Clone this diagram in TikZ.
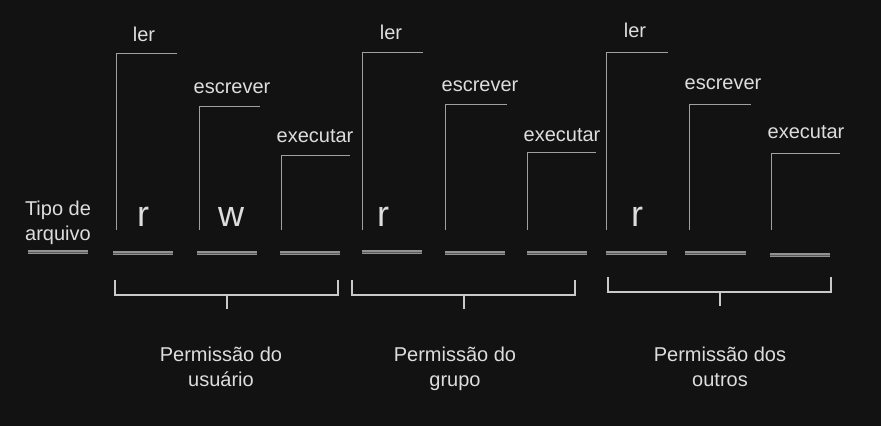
\documentclass[tikz,border=0pt]{standalone}
\usepackage{fontspec}
\setmainfont{Liberation Sans}
\definecolor{bg}{HTML}{121212}
\definecolor{fg}{HTML}{DDDDDD}
\definecolor{ln}{HTML}{A0A0A0}
\begin{document}
\begin{tikzpicture}[x=1pt, y=-1pt,
    lbl/.style={text=fg, font=\fontsize{20}{25}\selectfont, align=center, inner sep=0pt},
    big/.style={text=fg, font=\fontsize{36}{40}\selectfont, inner sep=0pt},
    slot/.style={draw=ln!90!bg, double=bg!50!ln, double distance=0.9pt, line width=1.1pt},
    arm/.style={draw=ln, line width=0.9pt},
    brace/.style={draw=fg!90!bg, line width=1.4pt}]
    \fill[bg] (0,0) rectangle (881,426);
    \useasboundingbox (0,0) rectangle (881,426);

    % tipo de arquivo
    \node[lbl, anchor=base] (tipo) at (58,240) {Tipo de\\arquivo};
    \draw[slot] (28,252) -- (88,252);

    % um colchete por bit
    \foreach \x/\t/\r/\lx/\ly/\txt [count=\i] in {
        116/53/177/144/41/ler, 199/106/260/232/93/escrever, 281/155/350/315/142/executar,
        362/52/423/391/39/ler, 445/104/507/480/91/escrever, 527/152/596/562/141/executar,
        606/52/668/635/37/ler, 689/104/751/723/89/escrever, 771/153/840/806/138/executar}
       {\draw[arm] (\x,230) -- (\x,\t) -- (\r,\t);
        \node[lbl, anchor=base] (op\i) at (\lx,\ly) {\txt};}

    % casas dos bits
    \foreach \a/\b/\y in {113/173/253, 197/257/253, 280/340/253,
        362/422/252, 445/505/253, 527/587/253,
        606/667/253, 685/746/253, 770/830/255}
       \draw[slot] (\a,\y) -- (\b,\y);

    \node[big, anchor=base] (bitr1) at (143,226) {r};
    \node[big, anchor=base] (bitw1) at (231,226) {w};
    \node[big, anchor=base] (bitr2) at (383,226) {r};
    \node[big, anchor=base] (bitr3) at (637,226) {r};

    % chaves dos grupos
    \foreach \a/\b/\m/\t in {115/338/227/280, 352/575/464/280, 608/831/720/277}
       {\draw[brace] (\a,\t) -- (\a,\t+15) -- (\b,\t+15) -- (\b,\t);
        \draw[brace] (\m,\t+15) -- (\m,\t+29);}

    \node[lbl, anchor=base] (grp1) at (221,386) {Permissão do\\usuário};
    \node[lbl, anchor=base] (grp2) at (455,386) {Permissão do\\grupo};
    \node[lbl, anchor=base] (grp3) at (720,386) {Permissão dos\\outros};

\end{tikzpicture}
\end{document}
